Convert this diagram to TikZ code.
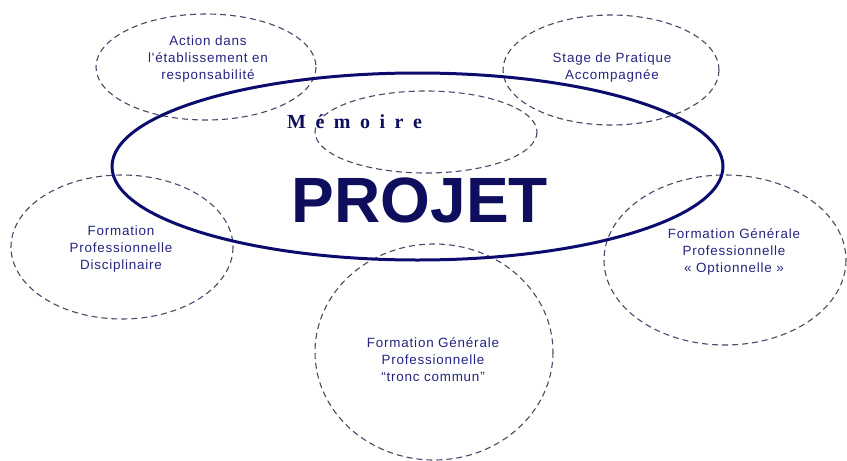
\documentclass[tikz,border=0pt]{standalone}
\usepackage{fontspec}
\setmainfont{Liberation Sans}
\newfontfamily\lblfont[LetterSpace=6]{Liberation Sans}
\newfontfamily\memfont{Liberation Serif}
\definecolor{txtnavy}{RGB}{36,36,128}
\definecolor{bignavy}{RGB}{12,12,110}
\definecolor{projnavy}{RGB}{14,14,92}
\definecolor{dashgray}{RGB}{72,72,104}
\tikzset{
  dashell/.style={draw=dashgray, line width=1.1pt, dash pattern=on 6pt off 4pt},
  lbl/.style={text=txtnavy, font=\lblfont\fontsize{13.4}{17}\selectfont, align=center, inner sep=0pt},
}
\begin{document}
\begin{tikzpicture}[x=1pt,y=-1pt]
\useasboundingbox (0,0) rectangle (847,461);
% dashed ellipses
\draw[dashell] (206,67) ellipse [x radius=110, y radius=53];
\draw[dashell] (611,70) ellipse [x radius=108, y radius=55];
\draw[dashell] (426,132) ellipse [x radius=111, y radius=41];
\draw[dashell] (122,247) ellipse [x radius=111, y radius=72];
\draw[dashell] (725,260) ellipse [x radius=121, y radius=85];
\draw[dashell] (434,352) ellipse [x radius=119, y radius=108];
% main ellipse
\draw[bignavy, line width=3pt] (417.5,166.5) ellipse [x radius=305.5, y radius=93.5];
% labels
\node[lbl] (action) at (208,59) {Action dans\\l'établissement en\\responsabilité};
\node[lbl] (stage) at (612,67.5) {Stage de Pratique\\Accompagnée};
\node[lbl] (fpd) at (121,249) {Formation\\Professionnelle\\Disciplinaire};
\node[lbl] (fgpo) at (734,252) {Formation Générale\\Professionnelle\\« Optionnelle »};
\node[lbl] (fgpt) at (433,359.5) {Formation Générale\\Professionnelle\\“tronc commun”};
\node[text=projnavy, inner sep=0pt, anchor=base west] (mem) at (287,128)
  {\memfont\bfseries\fontsize{20}{24}\selectfont M\kern9.5pt é\kern9.5pt m\kern9.5pt o\kern9.5pt i\kern9.5pt r\kern9.5pt e};
\node[text=projnavy, inner sep=0pt, anchor=base] (proj) at (420,222)
  {\bfseries\fontsize{64}{70}\selectfont PROJET};
\end{tikzpicture}
\end{document}
